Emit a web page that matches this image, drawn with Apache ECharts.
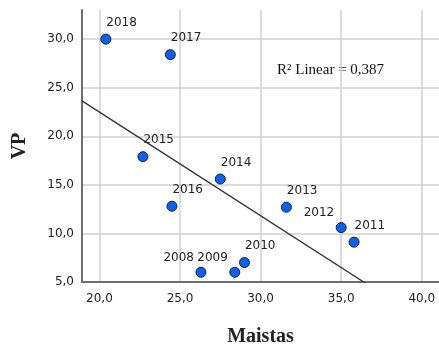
<!DOCTYPE html>
<html>
<head>
<meta charset="utf-8">
<script src="https://cdn.jsdelivr.net/npm/echarts@6/dist/echarts.min.js"></script>
<style>
  html, body { margin: 0; padding: 0; background: #fff; }
  #chart { width: 439px; height: 345px; }
</style>
</head>
<body>
<div id="chart"></div>
<script>
// Years and their (Maistas, VP) values
const years   = ['2018', '2017', '2015', '2016', '2008', '2014', '2009', '2010', '2013', '2012', '2011'];
const maistas = [20.4, 24.4, 22.7, 24.5, 26.3, 27.5, 28.4, 29.0, 31.6, 35.0, 35.8];
const vp      = [30.0, 28.4, 17.9, 12.8, 6.0, 15.6, 6.0, 7.0, 12.7, 10.6, 9.1];

// Axis tick values
const xTicks = [20, 25, 30, 35, 40];
const yTicks = [5, 10, 15, 20, 25, 30];
const rSquaredText = 'R² Linear = 0,387';

// Labels that sit to the upper-left of their point
const leftLabelYears = ['2008', '2009', '2012'];

const X_MIN = 18.92, X_MAX = 41.07, Y_MIN = 5, Y_MAX = 33;

// Least-squares fit of VP on Maistas
function linearFit(xs, ys) {
  const n = xs.length;
  const mx = xs.reduce((a, b) => a + b, 0) / n;
  const my = ys.reduce((a, b) => a + b, 0) / n;
  let sxy = 0, sxx = 0;
  for (let i = 0; i < n; i++) {
    sxy += (xs[i] - mx) * (ys[i] - my);
    sxx += (xs[i] - mx) * (xs[i] - mx);
  }
  const slope = sxy / sxx;
  return { slope, intercept: my - slope * mx };
}
const fit = linearFit(maistas, vp);
const fitLine = [X_MIN, X_MAX].map(x => [x, fit.intercept + fit.slope * x]);

const fmt = v => v.toFixed(1).replace('.', ',');

const points = years.map((y, i) => {
  const left = leftLabelYears.includes(y);
  return {
    value: [maistas[i], vp[i]],
    name: y,
    label: left
      ? { position: [-1.5, -9], align: 'right', verticalAlign: 'middle' }
      : { position: [6, -11], align: 'left', verticalAlign: 'middle' }
  };
});

const gridLineStyle = { color: '#d0d0d0', width: 1.5 };
const axisLineStyle = { color: '#6e6e6e', width: 2 };

const chart = echarts.init(document.getElementById('chart'), null, { renderer: 'canvas' });
chart.setOption({
  animation: false,
  backgroundColor: '#fff',
  grid: { left: 82, top: 10, right: 0, bottom: 63, containLabel: false, outerBoundsMode: 'none' },
  xAxis: {
    type: 'value', min: X_MIN, max: X_MAX, splitNumber: 5,
    name: 'Maistas', nameLocation: 'middle', nameGap: 45,
    nameTextStyle: { fontFamily: 'Liberation Serif', fontWeight: 'bold', fontSize: 20, color: '#222' },
    axisLine: { show: true, onZero: false, lineStyle: axisLineStyle },
    axisTick: { show: false },
    axisLabel: {
      customValues: xTicks, formatter: fmt, margin: 11,
      fontFamily: 'DejaVu Sans', fontSize: 12, color: '#222'
    },
    splitLine: { show: true, showMinLine: false, showMaxLine: false, lineStyle: gridLineStyle }
  },
  yAxis: {
    type: 'value', min: Y_MIN, max: Y_MAX, splitNumber: 5,
    name: 'VP', nameLocation: 'middle', nameGap: 52, nameRotate: 90,
    nameTextStyle: { fontFamily: 'Liberation Serif', fontWeight: 'bold', fontSize: 20, color: '#222' },
    axisLine: { show: true, onZero: false, lineStyle: axisLineStyle },
    axisTick: { show: false },
    axisLabel: {
      customValues: yTicks, formatter: fmt, margin: 8,
      fontFamily: 'DejaVu Sans', fontSize: 12, color: '#222'
    },
    splitLine: { show: true, showMinLine: false, showMaxLine: false, lineStyle: gridLineStyle }
  },
  series: [
    {
      type: 'line',
      data: fitLine,
      symbol: 'none',
      clip: true,
      silent: true,
      lineStyle: { color: '#333', width: 1.3 },
      z: 2
    },
    {
      type: 'scatter',
      data: points,
      symbol: 'circle',
      symbolSize: 10,
      itemStyle: { color: '#0a62f2', borderColor: '#1a1a3a', borderWidth: 1, opacity: 1 },
      label: {
        show: true,
        formatter: p => p.name,
        fontFamily: 'DejaVu Sans', fontSize: 12, color: '#222'
      },
      z: 3
    }
  ],
  graphic: [
    {
      type: 'text', left: 277, top: 63,
      style: { text: rSquaredText, fontFamily: 'Liberation Serif', fontSize: 15, fill: '#111' }
    }
  ]
});
</script>
</body>
</html>
